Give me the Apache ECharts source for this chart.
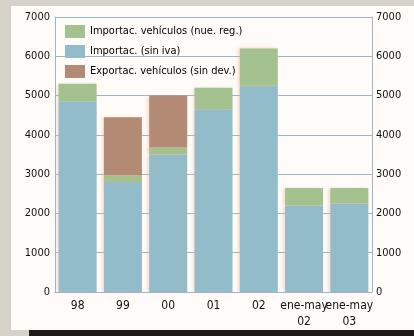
<!DOCTYPE html>
<html><head><meta charset="utf-8">
<script src="https://cdn.jsdelivr.net/npm/echarts@6/dist/echarts.min.js"></script>
<style>html,body{margin:0;padding:0;background:#d6d2ca;}#c{width:414px;height:336px;}</style>
</head><body><div id="c"></div>
<script>
var categories = ['98', '99', '00', '01', '02', 'ene-may\n02', 'ene-may\n03'];
var importBase = [4850, 2800, 3500, 4650, 5250, 2200, 2250];
var importVeh = [450, 170, 180, 550, 950, 450, 400];
var exportVeh = [0, 1480, 1320, 0, 0, 0, 0];
var yTicks = [0, 1000, 2000, 3000, 4000, 5000, 6000, 7000];
var seriesNames = ['Importac. vehículos (nue. reg.)', 'Importac. (sin iva)', 'Exportac. vehículos (sin dev.)'];

var font = '"DejaVu Sans Condensed", "Liberation Sans Narrow", "DejaVu Sans", sans-serif';
var cGreen = '#a3c28f', cBlue = '#93bccb', cBrown = '#b38b74';
var gridCol = '#9bb7c6';
var shadow = {shadowColor: 'rgba(235,170,140,0.45)', shadowBlur: 3, shadowOffsetX: -2, shadowOffsetY: 0};

var chart = echarts.init(document.getElementById('c'), null, {renderer: 'canvas'});
chart.setOption({
  animation: false,
  backgroundColor: '#d6d2ca',
  graphic: [
    {type: 'rect', z: -10, shape: {x: 11, y: 6, width: 403, height: 324}, style: {fill: '#fffbf8'}},
    {type: 'rect', z: -10, shape: {x: 29, y: 330, width: 385, height: 6}, style: {fill: '#1d1b1a'}}
  ],
  grid: {left: 55, right: 42, top: 17, bottom: 44},
  legend: {
    orient: 'vertical', left: 60, top: 20, itemWidth: 20, itemHeight: 13, itemGap: 7, icon: 'rect',
    data: [seriesNames[0], seriesNames[1], seriesNames[2]],
    textStyle: {fontFamily: font, fontSize: 11, color: '#000'},
    itemStyle: {shadowBlur: 0, shadowOffsetX: 0}
  },
  xAxis: {
    type: 'category', data: categories,
    axisLine: {lineStyle: {color: gridCol}}, axisTick: {show: false},
    axisLabel: {fontFamily: font, fontSize: 12, color: '#111', margin: 6, lineHeight: 16, interval: 0,
      rich: {}}
  },
  yAxis: [
    {type: 'value', min: yTicks[0], max: yTicks[yTicks.length - 1], interval: 1000, position: 'left',
     axisLine: {show: true, lineStyle: {color: gridCol}}, axisTick: {show: true, inside: true, length: 3, lineStyle: {color: gridCol}},
     splitLine: {lineStyle: {color: gridCol, width: 1}},
     axisLabel: {fontFamily: font, fontSize: 11, color: '#111', margin: 5, formatter: function (v) { return String(v); }}},
    {type: 'value', min: yTicks[0], max: yTicks[yTicks.length - 1], interval: 1000, position: 'right',
     axisLine: {show: true, lineStyle: {color: gridCol}}, axisTick: {show: false},
     splitLine: {show: false},
     axisLabel: {fontFamily: font, fontSize: 11, color: '#111', margin: 4, formatter: function (v) { return String(v); }}}
  ],
  series: [
    {name: seriesNames[1], type: 'bar', stack: 's', data: importBase, barWidth: 38,
     itemStyle: Object.assign({color: cBlue}, shadow)},
    {name: seriesNames[0], type: 'bar', stack: 's', data: importVeh, barWidth: 38,
     itemStyle: Object.assign({color: cGreen}, shadow)},
    {name: seriesNames[2], type: 'bar', stack: 's', data: exportVeh, barWidth: 38,
     itemStyle: Object.assign({color: cBrown}, shadow)}
  ]
});
</script></body></html>
